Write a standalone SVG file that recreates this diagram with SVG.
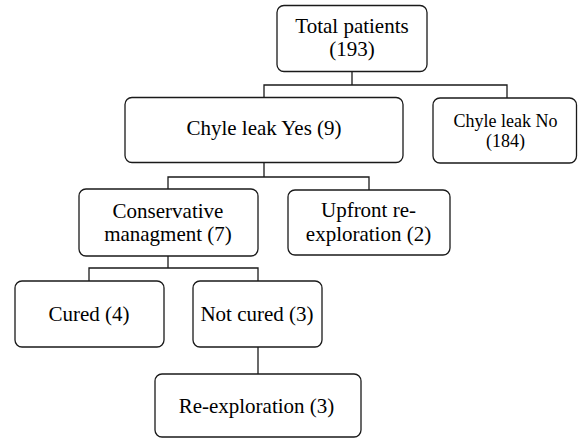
<svg xmlns="http://www.w3.org/2000/svg" width="578" height="438" viewBox="0 0 578 438">
<style>
.box{fill:#fff;stroke:#1a1a1a;stroke-width:1.3}
.c{fill:none;stroke:#1a1a1a;stroke-width:1.3}
</style>
<rect width="578" height="438" fill="#fff"/>
<g id="connectors">
<path class="c" d="M352 72V85M264 97.5V85H507V98"/>
<path class="c" d="M264 162.5V177M168 189V177H369V190"/>
<path class="c" d="M168 256V268M89 281V268H258V281"/>
<path class="c" d="M258 347V374"/>
</g>
<g id="total"><rect class="box" x="277" y="5.5" width="150" height="66" rx="7"/><text font-family="Liberation Serif" font-size="21" text-anchor="middle" x="352" y="33">Total patients</text><text font-family="Liberation Serif" font-size="21" text-anchor="middle" x="352" y="56">(193)</text></g>
<g id="yes"><rect class="box" x="125" y="97.5" width="278" height="65" rx="7"/><text font-family="Liberation Serif" font-size="21" text-anchor="middle" x="264" y="135">Chyle leak Yes (9)</text></g>
<g id="no"><rect class="box" x="433" y="98" width="143.5" height="65" rx="7"/><text font-family="Liberation Serif" font-size="18" text-anchor="middle" x="505.5" y="126.5">Chyle leak No</text><text font-family="Liberation Serif" font-size="18" text-anchor="middle" x="505.5" y="147">(184)</text></g>
<g id="conservative"><rect class="box" x="79" y="189" width="179" height="67" rx="7"/><text font-family="Liberation Serif" font-size="21" text-anchor="middle" x="168" y="217.5">Conservative</text><text font-family="Liberation Serif" font-size="21" text-anchor="middle" x="168" y="240.5">managment (7)</text></g>
<g id="upfront"><rect class="box" x="288" y="190" width="162" height="65" rx="7"/><text font-family="Liberation Serif" font-size="21" text-anchor="middle" x="368.5" y="217">Upfront re-</text><text font-family="Liberation Serif" font-size="21" text-anchor="middle" x="368.5" y="240.5">exploration (2)</text></g>
<g id="cured"><rect class="box" x="15" y="281" width="149" height="66" rx="7"/><text font-family="Liberation Serif" font-size="21" text-anchor="middle" x="89" y="321">Cured (4)</text></g>
<g id="notcured"><rect class="box" x="193" y="281" width="129" height="66" rx="7"/><text font-family="Liberation Serif" font-size="21" text-anchor="middle" x="257" y="321">Not cured (3)</text></g>
<g id="reexploration"><rect class="box" x="155" y="374" width="206" height="63" rx="7"/><text font-family="Liberation Serif" font-size="21" text-anchor="middle" x="256.5" y="413">Re-exploration (3)</text></g>
</svg>
